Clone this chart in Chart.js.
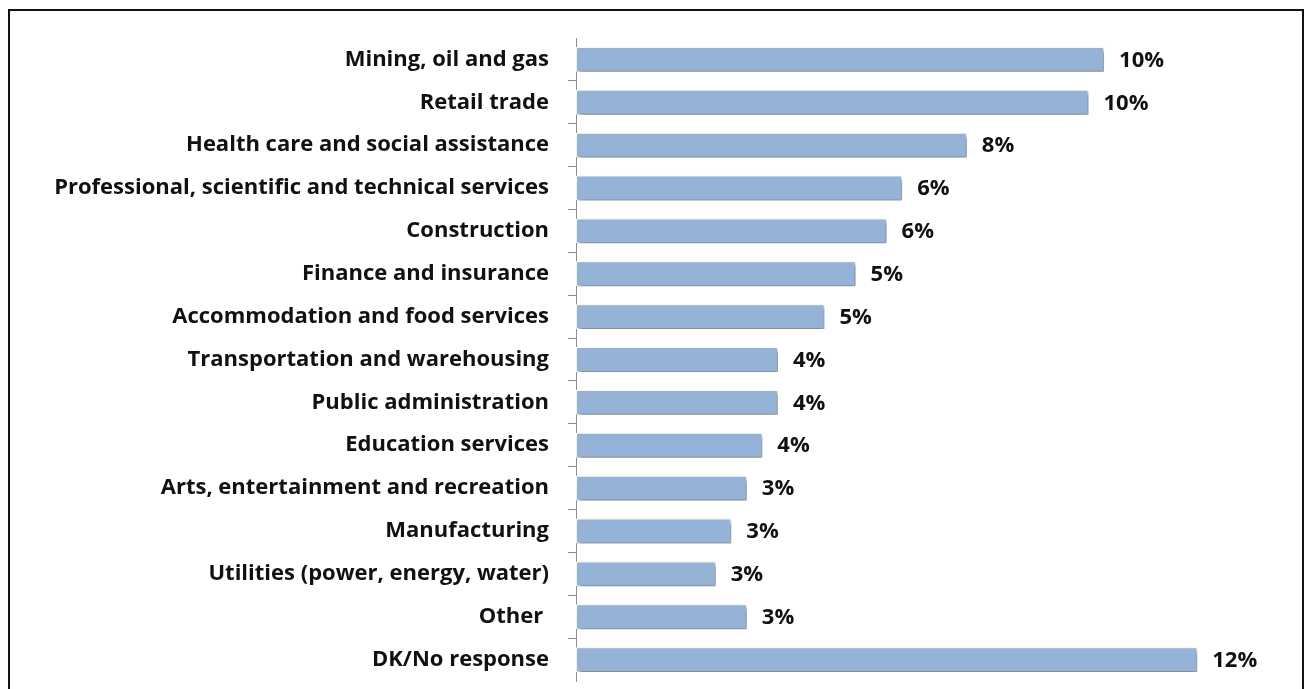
<!DOCTYPE html>
<html>
<head>
<meta charset="utf-8">
<title>Sector breakdown</title>
<script src="https://cdn.jsdelivr.net/npm/chart.js@4.4.0/dist/chart.umd.min.js"></script>
<style>
  html, body { margin: 0; padding: 0; background: #fff; overflow: hidden; }
  #wrap { position: relative; width: 1309px; height: 689px; }
  #frame {
    position: absolute; left: 8px; top: 9px; width: 1292px; height: 700px;
    border: 2px solid #111; border-bottom: none; pointer-events: none;
  }
  canvas { position: absolute; left: 0; top: 0; }
</style>
</head>
<body>
<div id="wrap">
  <canvas id="sectorChart" width="1309" height="689"></canvas>
  <div id="frame"></div>
</div>
<script>
// Sectors, top to bottom
const sectors = [
  'Mining, oil and gas',
  'Retail trade',
  'Health care and social assistance',
  'Professional, scientific and technical services',
  'Construction',
  'Finance and insurance',
  'Accommodation and food services',
  'Transportation and warehousing',
  'Public administration',
  'Education services',
  'Arts, entertainment and recreation',
  'Manufacturing',
  'Utilities (power, energy, water)',
  'Other ',
  'DK/No response'
];

// Share of respondents (%)
const shares = [10.2, 9.9, 7.55, 6.3, 6.0, 5.4, 4.8, 3.9, 3.9, 3.6, 3.3, 3.0, 2.7, 3.3, 12.0];

const FONT = '"Open Sans", Lato, sans-serif';

// Soft drop shadow under the bars
const barShadow = {
  id: 'barShadow',
  beforeDatasetsDraw(chart) {
    const ctx = chart.ctx;
    ctx.save();
    ctx.shadowColor = 'rgba(0, 0, 0, 0.5)';
    ctx.shadowBlur = 4;
    ctx.shadowOffsetX = 2;
    ctx.shadowOffsetY = 3;
  },
  afterDatasetsDraw(chart) {
    chart.ctx.restore();
  }
};

// Percent labels at the end of each bar
const valueLabels = {
  id: 'valueLabels',
  afterDatasetsDraw(chart) {
    const ctx = chart.ctx;
    const meta = chart.getDatasetMeta(0);
    ctx.save();
    ctx.font = 'bold 22px ' + FONT;
    ctx.fillStyle = '#111';
    ctx.textAlign = 'left';
    ctx.textBaseline = 'middle';
    meta.data.forEach((bar, i) => {
      const v = chart.data.datasets[0].data[i];
      ctx.fillText(Math.round(v) + '%', bar.x + 15, bar.y + 1);
    });
    ctx.restore();
  }
};

const ctx = document.getElementById('sectorChart');

new Chart(ctx, {
  type: 'bar',
  data: {
    labels: sectors,
    datasets: [{
      data: shares,
      backgroundColor: '#95b3d7',
      borderColor: '#ffffff',
      borderWidth: 1,
      borderSkipped: false,
      categoryPercentage: 1,
      barPercentage: 0.58
    }]
  },
  options: {
    indexAxis: 'y',
    responsive: false,
    animation: false,
    layout: { padding: { top: 38, bottom: 8, right: 60, left: 0 } },
    plugins: {
      legend: { display: false },
      tooltip: { enabled: false }
    },
    scales: {
      x: {
        display: false,
        min: 0,
        max: 13
      },
      y: {
        afterFit(scale) {
          // fixed label column; labels sit inside the plot's own height
          scale.width = 576;
          scale.paddingTop = 0;
          scale.paddingBottom = 0;
        },
        grid: {
          drawOnChartArea: false,
          drawTicks: true,
          tickLength: 8,
          // only the marks between categories, not at the two ends
          tickColor: (c) => (c.type !== 'tick' || c.index === 0) ? 'rgba(0,0,0,0)' : '#8c8c8c'
        },
        border: { display: true, color: '#8c8c8c', width: 1 },
        ticks: {
          color: '#111',
          padding: 19,
          font: { family: FONT, size: 22, weight: 'bold' }
        }
      }
    }
  },
  plugins: [barShadow, valueLabels]
});
</script>
</body>
</html>
